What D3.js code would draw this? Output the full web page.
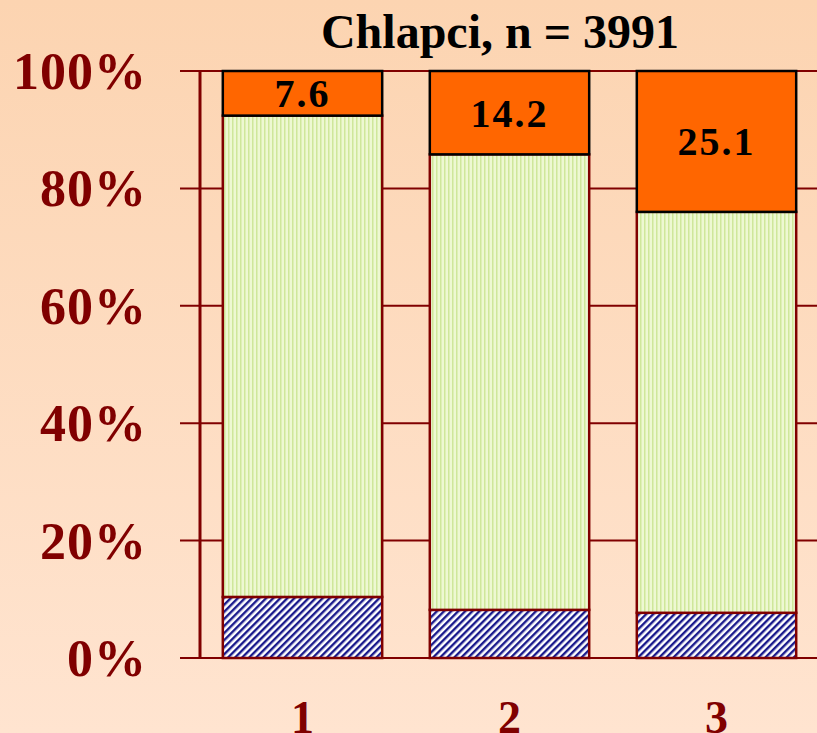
<!DOCTYPE html>
<html>
<head>
<meta charset="utf-8">
<script src="https://cdn.jsdelivr.net/npm/d3@7"></script>
<style>
  html, body { margin: 0; padding: 0; overflow: hidden; }
  svg { display: block; }
</style>
</head>
<body>
<div id="graph_container"></div>
<script>
// chart data
var categories   = ["1", "2", "3"];
var blueValues   = [10.4, 8.2, 7.7];
var greenValues  = [82.0, 77.6, 68.3];
var orangeValues = [7.6, 14.2, 24.0];
var orangeLabels = ["7.6", "14.2", "25.1"];
var yTicks       = [0, 20, 40, 60, 80, 100];
var titleText    = "Chlapci, n = 3991";

var frame_width  = 817,
    frame_height = 733,
    darkRed      = "#800000",
    serif        = "'Liberation Serif', 'Times New Roman', serif";

var svg = d3.select("#graph_container").append("svg")
    .attr("width", frame_width)
    .attr("height", frame_height);

var defs = svg.append("defs");

// background gradient
var bg = defs.append("linearGradient")
    .attr("id", "bg").attr("x1", 0).attr("y1", 0).attr("x2", 0).attr("y2", 1);
bg.append("stop").attr("offset", "0%").attr("stop-color", "#fcd4b1");
bg.append("stop").attr("offset", "100%").attr("stop-color", "#ffe4d0");

// blue diagonal hatch
var hatch = defs.append("pattern")
    .attr("id", "hatch")
    .attr("patternUnits", "userSpaceOnUse")
    .attr("width", 5).attr("height", 5)
    .attr("patternTransform", "rotate(45)");
hatch.append("rect").attr("width", 5).attr("height", 5).attr("fill", "#ffffff");
hatch.append("rect").attr("width", 2.4).attr("height", 5).attr("fill", "#1a1a8c");

// green vertical stripes
var stripes = defs.append("pattern")
    .attr("id", "stripes")
    .attr("patternUnits", "userSpaceOnUse")
    .attr("width", 4).attr("height", 4);
stripes.append("rect").attr("width", 4).attr("height", 4).attr("fill", "#eef8d2");
stripes.append("rect").attr("width", 1.5).attr("height", 4).attr("fill", "#cfe79a");

svg.append("rect")
    .attr("width", frame_width).attr("height", frame_height)
    .attr("fill", "url(#bg)");

// scales
var x = d3.scaleBand()
    .domain(categories)
    .range([199, 820])
    .paddingInner(0.23)
    .paddingOuter(0.115);

var y = d3.scaleLinear()
    .domain([0, 100])
    .range([658, 71]);

// gridlines
svg.append("g")
    .selectAll("line")
    .data(yTicks)
    .enter().append("line")
    .attr("x1", 180)
    .attr("x2", frame_width)
    .attr("y1", function(d) { return y(d); })
    .attr("y2", function(d) { return y(d); })
    .attr("stroke", darkRed)
    .attr("stroke-width", 2);

// y axis line
svg.append("line")
    .attr("x1", 200).attr("x2", 200)
    .attr("y1", y(100)).attr("y2", y(0))
    .attr("stroke", darkRed)
    .attr("stroke-width", 3);

// y tick labels
svg.append("g")
    .selectAll("text")
    .data(yTicks)
    .enter().append("text")
    .attr("x", 147)
    .attr("y", function(d) { return y(d) + 18; })
    .attr("text-anchor", "end")
    .attr("font-family", serif)
    .attr("font-weight", "bold")
    .attr("font-size", 52)
    .attr("letter-spacing", 1)
    .attr("fill", darkRed)
    .text(function(d) { return d + "%"; });

// stacked rows
var rows = categories.map(function(c, i) {
    return {
        cat: c,
        blue: blueValues[i],
        green: greenValues[i],
        orange: orangeValues[i],
        label: orangeLabels[i]
    };
});

var segs = [
    {key: "blue",   fill: "url(#hatch)",   stroke: darkRed},
    {key: "green",  fill: "url(#stripes)", stroke: darkRed},
    {key: "orange", fill: "#ff6600",       stroke: "#000000"}
];

var stacked = d3.stack().keys(["blue", "green", "orange"])(rows);

stacked.forEach(function(layer, li) {
    svg.append("g")
        .selectAll("rect")
        .data(layer)
        .enter().append("rect")
        .attr("x", function(d) { return x(d.data.cat); })
        .attr("width", x.bandwidth())
        .attr("y", function(d) { return y(d[1]); })
        .attr("height", function(d) { return y(d[0]) - y(d[1]); })
        .attr("fill", segs[li].fill)
        .attr("stroke", segs[li].stroke)
        .attr("stroke-width", 2.5);
});

// value labels in orange segments
var orangeLayer = stacked[2];
svg.append("g")
    .selectAll("text")
    .data(orangeLayer)
    .enter().append("text")
    .attr("x", function(d) { return x(d.data.cat) + x.bandwidth() / 2; })
    .attr("y", function(d) { return (y(d[0]) + y(d[1])) / 2 + 14; })
    .attr("text-anchor", "middle")
    .attr("font-family", serif)
    .attr("font-weight", "bold")
    .attr("font-size", 40)
    .attr("letter-spacing", 2)
    .attr("fill", "#000000")
    .text(function(d) { return d.data.label; });

// x labels
svg.append("g")
    .selectAll("text")
    .data(categories)
    .enter().append("text")
    .attr("x", function(d) { return x(d) + x.bandwidth() / 2; })
    .attr("y", 733)
    .attr("text-anchor", "middle")
    .attr("font-family", serif)
    .attr("font-weight", "bold")
    .attr("font-size", 46)
    .attr("fill", darkRed)
    .text(function(d) { return d; });

// title
svg.append("text")
    .attr("x", 500)
    .attr("y", 48)
    .attr("text-anchor", "middle")
    .attr("font-family", serif)
    .attr("font-weight", "bold")
    .attr("font-size", 48)
    .attr("fill", "#000000")
    .text(titleText);
</script>
</body>
</html>
